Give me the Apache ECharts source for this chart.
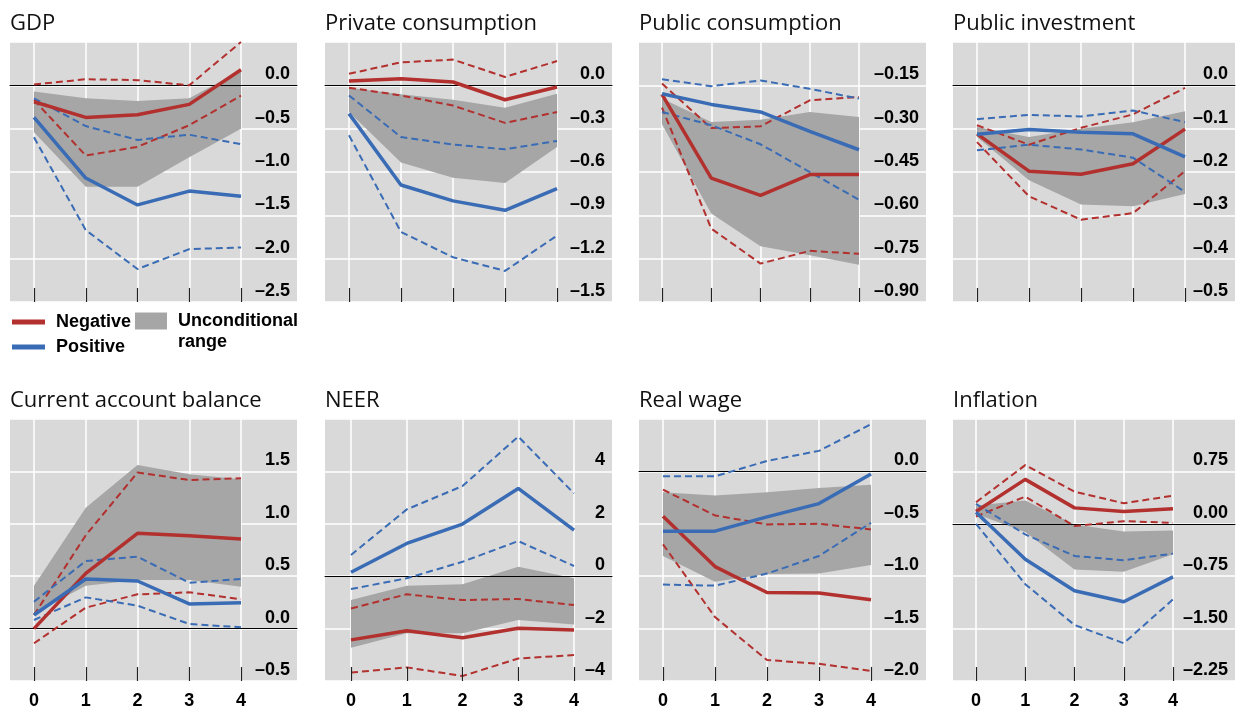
<!DOCTYPE html>
<html>
<head>
<meta charset="utf-8">
<script src="https://cdn.jsdelivr.net/npm/echarts@6/dist/echarts.min.js"></script>
<style>
  html, body { margin: 0; padding: 0; background: #ffffff; }
  #chart { width: 1246px; height: 713px; }
</style>
</head>
<body>
<div id="chart"></div>
<script>
// Horizons (quarters after the shock) and panel titles
const horizons = [0, 1, 2, 3, 4];
const panelTitles = ['GDP', 'Private consumption', 'Public consumption', 'Public investment',
                     'Current account balance', 'NEER', 'Real wage', 'Inflation'];

// Value axis of each panel
const yMin = [-2.5, -1.5, -0.9, -0.5, -0.5, -4, -2, -2.25];
const yMax = [0.5, 0.3, 0, 0.1, 2, 6, 0.5, 1.5];
const yStep = [0.5, 0.3, 0.15, 0.1, 0.5, 2, 0.5, 0.75];
const yDecimals = [1, 1, 2, 1, 1, 0, 1, 2];

// Responses after a negative shock: point estimate and band
const negative = [
  [-0.19, -0.37, -0.34, -0.22, 0.18],
  [0.03, 0.046, 0.023, -0.10, -0.012],
  [-0.181, -0.471, -0.531, -0.459, -0.459],
  [-0.112, -0.198, -0.205, -0.181, -0.101],
  [0.0, 0.527, 0.909, 0.887, 0.855],
  [-2.43, -2.08, -2.35, -1.99, -2.05],
  [-0.427, -0.908, -1.155, -1.16, -1.225],
  [0.176, 0.636, 0.228, 0.176, 0.214]
];
const negativeUpper = [
  [0.01, 0.07, 0.06, 0.0, 0.5],
  [0.08, 0.159, 0.178, 0.058, 0.168],
  [-0.144, -0.298, -0.292, -0.202, -0.19],
  [-0.092, -0.137, -0.098, -0.067, -0.006],
  [0.13, 0.89, 1.49, 1.418, 1.434],
  [-1.23, -0.69, -0.91, -0.87, -1.10],
  [-0.174, -0.42, -0.506, -0.5, -0.554],
  [0.309, 0.84, 0.46, 0.294, 0.403]
];
const negativeLower = [
  [-0.17, -0.81, -0.71, -0.46, -0.12],
  [-0.016, -0.07, -0.14, -0.26, -0.185],
  [-0.227, -0.646, -0.767, -0.723, -0.733],
  [-0.131, -0.256, -0.31, -0.295, -0.198],
  [-0.14, 0.2, 0.327, 0.346, 0.28],
  [-3.68, -3.48, -3.81, -3.14, -3.01],
  [-0.696, -1.39, -1.80, -1.835, -1.905],
  [0.104, 0.389, -0.033, 0.038, 0.014]
];

// Responses after a positive shock: point estimate and band
const positive = [
  [-0.37, -1.07, -1.38, -1.22, -1.28],
  [-0.196, -0.69, -0.80, -0.865, -0.715],
  [-0.179, -0.216, -0.242, -0.309, -0.373],
  [-0.113, -0.102, -0.108, -0.112, -0.165],
  [0.13, 0.473, 0.454, 0.235, 0.247],
  [0.15, 1.25, 1.99, 3.35, 1.76],
  [-0.57, -0.57, -0.434, -0.307, -0.025],
  [0.166, -0.508, -0.959, -1.115, -0.76]
];
const positiveUpper = [
  [-0.15, -0.47, -0.63, -0.57, -0.68],
  [-0.07, -0.358, -0.41, -0.443, -0.385],
  [-0.129, -0.153, -0.133, -0.162, -0.196],
  [-0.078, -0.068, -0.072, -0.058, -0.085],
  [0.257, 0.645, 0.686, 0.438, 0.473],
  [0.81, 2.55, 3.44, 5.33, 3.16],
  [-0.047, -0.047, 0.10, 0.196, 0.45],
  [0.285, -0.152, -0.46, -0.522, -0.427]
];
const positiveLower = [
  [-0.60, -1.67, -2.12, -1.89, -1.87],
  [-0.346, -1.015, -1.19, -1.285, -1.04],
  [-0.242, -0.288, -0.354, -0.45, -0.546],
  [-0.15, -0.137, -0.148, -0.167, -0.246],
  [0.082, 0.298, 0.219, 0.044, 0.013],
  [-0.49, -0.08, 0.55, 1.34, 0.39],
  [-1.08, -1.09, -0.975, -0.807, -0.49],
  [0.0, -0.864, -1.448, -1.709, -1.082]
];

// Unconditional range
const rangeUpper = [
  [-0.07, -0.15, -0.18, -0.15, 0.17],
  [-0.016, -0.062, -0.10, -0.155, -0.058],
  [-0.196, -0.277, -0.269, -0.242, -0.26],
  [-0.096, -0.119, -0.10, -0.085, -0.06],
  [0.41, 1.154, 1.561, 1.472, 1.424],
  [-0.91, -0.36, -0.31, 0.36, -0.08],
  [-0.2, -0.23, -0.2, -0.158, -0.127],
  [0.261, 0.332, -0.01, -0.109, -0.095]
];
const rangeLower = [
  [-0.54, -1.17, -1.17, -0.83, -0.5],
  [-0.185, -0.535, -0.64, -0.676, -0.427],
  [-0.285, -0.594, -0.707, -0.738, -0.771],
  [-0.119, -0.219, -0.275, -0.279, -0.251],
  [0.145, 0.41, 0.464, 0.464, 0.4],
  [-2.73, -2.18, -2.18, -1.67, -1.84],
  [-0.807, -1.054, -0.98, -0.975, -0.892],
  [0.142, -0.119, -0.655, -0.688, -0.437]
];

// Panel geometry (pixels)
const bgLeft = [10, 325, 639, 953, 10, 325, 639, 953];
const bgRight = [297, 612, 926, 1235, 297, 612, 926, 1235];
const firstCatX = [34, 349, 662, 977, 34, 351, 663, 976];
const lastCatX = [241, 557, 859, 1185, 241, 574, 871, 1173];
const rowTop = [42, 419];
const rowBottom = [302, 681];
const titleTop = [13, 390];

const RED = '#b2302e';
const BLUE = '#3a6cb5';
const PLOT_BG = '#d9d9d9';
const BAND = '#a6a6a6';
const LABEL_FONT = '"Liberation Sans", Arial, sans-serif';
const TITLE_FONT = '"Open Sans", "Noto Sans", sans-serif';

function fmt(v, d) {
  if (Math.abs(v) < 1e-9) return (0).toFixed(d);
  return (v < 0 ? '\u2013' : '') + Math.abs(v).toFixed(d);
}

const grid = [], xAxis = [], yAxis = [], series = [], title = [];

panelTitles.forEach((name, i) => {
  const row = i < 4 ? 0 : 1;
  const top = rowTop[row];
  const height = rowBottom[row] - rowTop[row];
  const bgGrid = grid.length;
  const dataGrid = bgGrid + 1;

  title.push({
    text: name, left: bgLeft[i], top: titleTop[row], padding: 0,
    textStyle: { fontFamily: TITLE_FONT, fontSize: 22, fontWeight: 'normal', color: '#111' }
  });

  // Backdrop grid: plot background, horizontal gridlines, value labels, zero line
  grid.push({ left: bgLeft[i], top: top, width: bgRight[i] - bgLeft[i], height: height,
              show: true, backgroundColor: PLOT_BG, borderWidth: 0, containLabel: false });
  // Data grid spanning horizons 0..4
  grid.push({ left: firstCatX[i], top: top, width: lastCatX[i] - firstCatX[i], height: height,
              show: false, containLabel: false });

  const zeroInside = yMin[i] < 0 && yMax[i] > 0;
  xAxis.push({
    type: 'value', gridIndex: bgGrid, min: 0, max: 1, z: 3, position: 'bottom',
    axisLine: { show: zeroInside, onZero: true, lineStyle: { color: '#000', width: 1 } },
    axisTick: { show: false }, axisLabel: { show: false }, splitLine: { show: false }
  });
  const dataX = xAxis.length;
  xAxis.push({
    type: 'value', gridIndex: dataGrid, min: 0, max: 4, interval: 1, position: 'bottom',
    axisLine: { show: false, onZero: false }, axisTick: { show: false },
    axisLabel: {
      show: row === 1, margin: 11, color: '#000', fontFamily: LABEL_FONT,
      fontSize: 18, fontWeight: 'bold', formatter: v => String(horizons[v])
    },
    splitLine: { show: true, showMinLine: true, showMaxLine: true,
                 lineStyle: { color: '#ffffff', width: 1.5 } }
  });
  // Short tick marks drawn over the foot of the vertical gridlines
  xAxis.push({
    type: 'value', gridIndex: dataGrid, min: 0, max: 4, interval: 1, z: 6,
    position: 'bottom', offset: 0,
    axisLine: { show: false, onZero: false },
    axisTick: { show: true, inside: true, length: 14, lineStyle: { color: '#222', width: 1.2 } },
    axisLabel: { show: false }, splitLine: { show: false }
  });

  const d = yDecimals[i];
  yAxis.push({
    type: 'value', gridIndex: bgGrid, position: 'right',
    min: yMin[i], max: yMax[i], interval: yStep[i],
    axisLine: { show: false }, axisTick: { show: false },
    axisLabel: {
      inside: true, margin: 7, showMaxLabel: false, showMinLabel: true,
      verticalAlign: 'bottom', padding: [0, 0, 2, 0],
      color: '#000', fontFamily: LABEL_FONT, fontSize: 18, fontWeight: 'bold',
      formatter: v => fmt(v, d)
    },
    splitLine: { show: true, lineStyle: { color: '#ffffff', width: 1.5 } }
  });
  const dataY = yAxis.length;
  yAxis.push({
    type: 'value', gridIndex: dataGrid, min: yMin[i], max: yMax[i],
    show: false, splitLine: { show: false }
  });

  const pts = arr => horizons.map((h, k) => [h, arr[k]]);
  const base = { xAxisIndex: dataX, yAxisIndex: dataY, silent: true, animation: false };

  // Unconditional range as one filled polygon: upper edge forward, lower edge back
  const upper = rangeUpper[i], lower = rangeLower[i];
  series.push(Object.assign({}, base, {
    type: 'custom', name: 'Unconditional range', z: 2, clip: true,
    itemStyle: { color: BAND },
    data: horizons.map((h, k) => [h, lower[k], upper[k]]),
    renderItem: (params, api) => {
      if (params.dataIndex !== 0) return null;
      const poly = [];
      horizons.forEach((h, k) => poly.push(api.coord([h, upper[k]])));
      for (let k = horizons.length - 1; k >= 0; k--) poly.push(api.coord([horizons[k], lower[k]]));
      return { type: 'polygon', shape: { points: poly }, style: { fill: BAND } };
    }
  }));

  const line = (arr, color, nm, width, dash, z) => Object.assign({}, base, {
    type: 'line', symbol: 'none', name: nm, data: pts(arr), z: z,
    itemStyle: { color: color },
    lineStyle: { color: color, width: width, type: dash }
  });
  series.push(line(negativeUpper[i], RED, 'Negative upper', 2, [7, 4], 3));
  series.push(line(negativeLower[i], RED, 'Negative lower', 2, [7, 4], 3));
  series.push(line(positiveUpper[i], BLUE, 'Positive upper', 2, [7, 4], 3));
  series.push(line(positiveLower[i], BLUE, 'Positive lower', 2, [7, 4], 3));
  series.push(line(negative[i], RED, 'Negative', 3.5, 'solid', 4));
  series.push(line(positive[i], BLUE, 'Positive', 3.5, 'solid', 4));
});

const legendText = { color: '#000', fontFamily: LABEL_FONT, fontSize: 18, fontWeight: 'bold' };

const option = {
  animation: false,
  title: title,
  grid: grid,
  xAxis: xAxis,
  yAxis: yAxis,
  series: series,
  legend: [
    {
      data: [{ name: 'Negative', icon: 'rect' }, { name: 'Positive', icon: 'rect' }],
      orient: 'vertical', left: 12, top: 312, padding: 0,
      itemWidth: 33, itemHeight: 5, itemGap: 5, selectedMode: false,
      itemStyle: { borderWidth: 0 },
      textStyle: Object.assign({ lineHeight: 20, padding: [0, 0, 0, 6] }, legendText)
    },
    {
      data: [{ name: 'Unconditional range', icon: 'rect' }],
      left: 135, top: 311, padding: 0,
      itemWidth: 32, itemHeight: 17, selectedMode: false,
      itemStyle: { borderWidth: 0, color: BAND },
      formatter: () => 'Unconditional',
      textStyle: Object.assign({ lineHeight: 20, padding: [0, 0, 0, 6] }, legendText)
    }
  ],
  // Second line of the range legend entry
  graphic: [{
    type: 'text', left: 178, top: 333, silent: true,
    style: { text: 'range', fill: '#000', font: 'bold 18px "Liberation Sans", Arial, sans-serif' }
  }]
};

const chart = echarts.init(document.getElementById('chart'), null, { renderer: 'canvas' });
chart.setOption(option);
</script>
</body>
</html>
